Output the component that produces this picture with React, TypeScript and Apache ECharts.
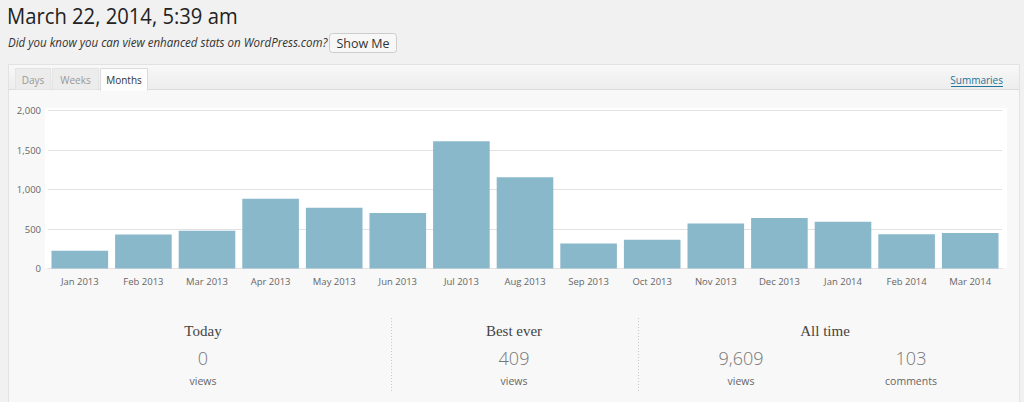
import React, { useEffect, useRef } from "react";
import * as echarts from "echarts";

const categories = [
  "Jan 2013", "Feb 2013", "Mar 2013", "Apr 2013", "May 2013", "Jun 2013", "Jul 2013",
  "Aug 2013", "Sep 2013", "Oct 2013", "Nov 2013", "Dec 2013", "Jan 2014", "Feb 2014", "Mar 2014",
];
const views = [224, 431, 477, 883, 769, 702, 1612, 1155, 317, 363, 571, 638, 591, 435, 448];
const yTicks = [0, 500, 1000, 1500, 2000];
const tabs = ["Days", "Weeks", "Months"];
const statBlocks = [
  { title: "Today", values: [{ num: "0", label: "views" }] },
  { title: "Best ever", values: [{ num: "409", label: "views" }] },
  { title: "All time", values: [{ num: "9,609", label: "views" }, { num: "103", label: "comments" }] },
];

const SANS = "'Open Sans', 'Noto Sans', sans-serif";
const SERIF = "'Liberation Serif', 'DejaVu Serif', serif";

function txt(text: string, x: number, y: number, font: string, fill: string, align = "left", extra: any = {}) {
  return {
    type: "text",
    x,
    y,
    z: 3,
    ...extra,
    style: {
      text,
      font,
      fill,
      textAlign: align,
      textVerticalAlign: "middle",
      align,
      verticalAlign: "middle",
    },
  };
}

export default function App() {
  const ref = useRef<HTMLDivElement>(null);
  useEffect(() => {
    if (!ref.current) return;
    const chart = echarts.init(ref.current, null, { renderer: "svg" });

    const tabDefs = [
      { x: 15.5, w: 35 },
      { x: 52.5, w: 46 },
      { x: 100.5, w: 47 },
    ];
    const graphics: any[] = [];
    // title area
    graphics.push(txt("March 22, 2014, 5:39 am", 7, 15, `400 22px ${SANS}`, "#222", "left", { scaleX: 0.92 }));
    graphics.push(txt("Did you know you can view enhanced stats on WordPress.com?", 8, 42.5, `italic 12.4px ${SANS}`, "#333", "left", { scaleX: 0.93 }));
    graphics.push({
      type: "rect", z: 1,
      shape: { x: 329.5, y: 33.5, width: 67, height: 19, r: 3 },
      style: { fill: "#f7f7f7", stroke: "#cccccc", lineWidth: 1 },
    });
    graphics.push(txt("Show Me", 363, 43, `12.5px ${SANS}`, "#333", "center"));
    // panel
    graphics.push({
      type: "rect", z: 0,
      shape: { x: 8.5, y: 64.5, width: 1011, height: 360 },
      style: { fill: "#f8f8f8", stroke: "#e2e2e2", lineWidth: 1 },
    });
    graphics.push({
      type: "rect", z: 1,
      shape: { x: 9, y: 65, width: 1010, height: 24 },
      style: {
        fill: new echarts.graphic.LinearGradient(0, 0, 0, 1, [
          { offset: 0, color: "#f8f8f8" },
          { offset: 1, color: "#ededed" },
        ]),
      },
    });
    graphics.push({
      type: "line", z: 1,
      shape: { x1: 9, y1: 89.5, x2: 1019, y2: 89.5 },
      style: { stroke: "#dcdcdc", lineWidth: 1 },
    });
    tabs.forEach((t, i) => {
      const d = tabDefs[i];
      const active = i === tabs.length - 1;
      graphics.push({
        type: "rect", z: 2,
        shape: { x: d.x, y: 68.5, width: d.w, height: active ? 22 : 21 },
        style: { fill: active ? "#fdfdfd" : "#ececec", stroke: active ? "#dcdcdc" : "#e4e4e4", lineWidth: 1 },
      });
      if (active) {
        graphics.push({
          type: "rect", z: 2,
          shape: { x: d.x + 0.5, y: 88, width: d.w - 1, height: 3 },
          style: { fill: "#fdfdfd" },
        });
      }
      graphics.push(txt(t, d.x + d.w / 2, 80, `10px ${SANS}`, active ? "#333" : "#999", "center"));
    });
    graphics.push(txt("Summaries", 1003, 80, `10px ${SANS}`, "#21759b", "right"));
    graphics.push({
      type: "line", z: 3,
      shape: { x1: 951, y1: 86.5, x2: 1003, y2: 86.5 },
      style: { stroke: "#21759b", lineWidth: 1 },
    });
    // plot background
    graphics.push({
      type: "rect", z: 1,
      shape: { x: 45, y: 108, width: 962, height: 160 },
      style: { fill: "#ffffff" },
    });
    // stats
    const blockCenters = [203, 514, 825];
    const valueCenters = [[203], [514], [741, 911]];
    statBlocks.forEach((b, i) => {
      graphics.push(txt(b.title, blockCenters[i], 330.5, `15px ${SERIF}`, "#444", "center"));
      b.values.forEach((v, j) => {
        const cx = valueCenters[i][j];
        graphics.push(txt(v.num, cx, 357.5, `300 18px ${SANS}`, "#777", "center"));
        graphics.push(txt(v.label, cx, 381, `10.5px ${SANS}`, "#666", "center"));
      });
    });
    [391, 638].forEach((x) => {
      graphics.push({
        type: "line", z: 2,
        shape: { x1: x + 0.5, y1: 318, x2: x + 0.5, y2: 391 },
        style: { stroke: "#c8c8c8", lineWidth: 1, lineDash: [1, 2] },
      });
    });

    chart.setOption({
      animation: false,
      backgroundColor: "#f1f1f1",
      textStyle: { fontFamily: SANS },
      graphic: { elements: graphics },
      grid: { left: 48, right: 22, top: 110.5, bottom: 402 - 268.5, containLabel: false },
      xAxis: {
        type: "category",
        data: categories,
        z: 5,
        axisLine: { show: true, lineStyle: { color: "#e2e2e2" } },
        axisTick: { show: false },
        axisLabel: { color: "#666", fontSize: 9.5, fontFamily: SANS, margin: 8, interval: 0 },
      },
      yAxis: {
        type: "value",
        min: yTicks[0],
        max: yTicks[yTicks.length - 1],
        interval: yTicks[1] - yTicks[0],
        z: 5,
        axisLine: { show: false },
        axisTick: { show: false },
        splitLine: { lineStyle: { color: "#e2e2e2", width: 1 } },
        axisLabel: {
          color: "#666",
          fontSize: 9.5,
          fontFamily: SANS,
          margin: 7,
          formatter: (v: number) => v.toLocaleString("en-US"),
        },
      },
      series: [
        {
          type: "bar",
          data: views,
          z: 10,
          barCategoryGap: "11%",
          itemStyle: { color: "#8ab8cb" },
        },
      ],
    });
    return () => chart.dispose();
  }, []);
  return (
    <div
      ref={ref}
      style={{ position: "absolute", left: 0, top: 0, width: 1024, height: 402 }}
    />
  );
}
